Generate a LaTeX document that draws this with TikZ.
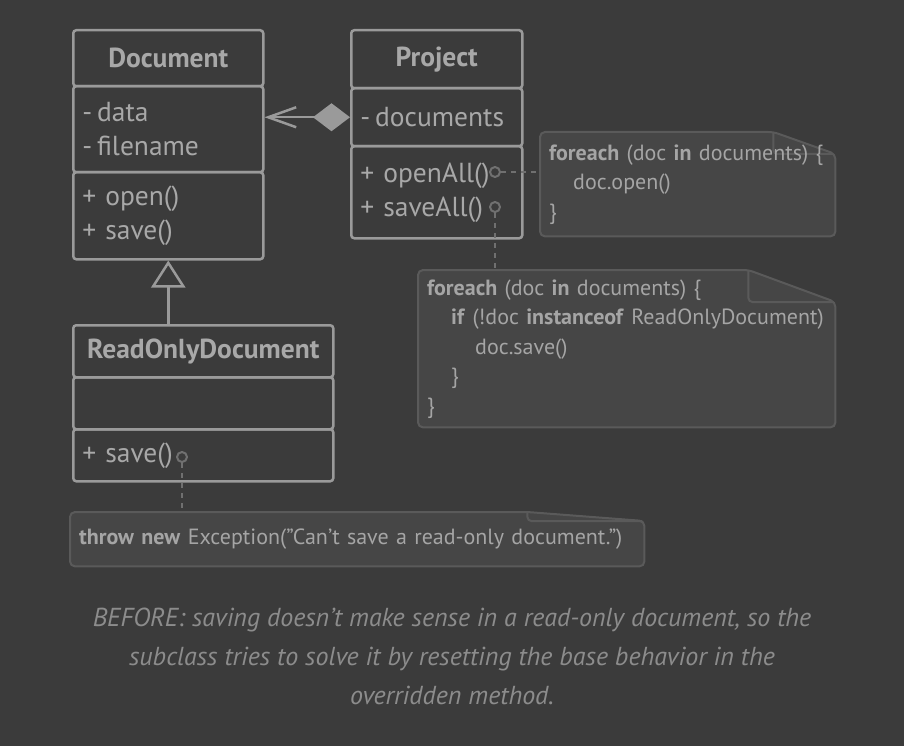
\documentclass[tikz,border=0pt]{standalone}
\usepackage{fontspec}
\setmainfont{PT Sans}
\usepackage{xcolor}
\usepackage{tikz}
\usetikzlibrary{arrows.meta, backgrounds}

\definecolor{pagebg}{HTML}{3B3B3B}
\definecolor{umlline}{HTML}{9A9A9A}
\definecolor{umltext}{HTML}{A8A8A8}
\definecolor{notefill}{HTML}{464646}
\definecolor{noteline}{HTML}{5A5A5A}
\definecolor{notetext}{HTML}{A5A5A5}
\definecolor{linkline}{HTML}{707070}
\definecolor{captext}{HTML}{8C8C8C}

\tikzset{
    umlbox/.style={draw=umlline, line width=2.5pt, rounded corners=3pt, anchor=north west,
        inner xsep=9pt, inner ysep=0pt, text=umltext, align=left, font=\fontsize{27.5}{34}\selectfont},
    umlhead/.style={umlbox, align=center, font=\fontsize{27.5}{34}\selectfont\bfseries},
    notebox/.style={anchor=north west, inner xsep=9pt, inner ysep=0pt, align=left,
        text=notetext, font=\fontsize{22}{29.5}\selectfont},
    linkdot/.style={circle, draw=linkline, line width=2pt, inner sep=0pt, minimum size=10pt},
    linkdash/.style={draw=linkline, line width=2.5pt, dash pattern=on 5pt off 5pt}
}

\begin{document}
\begin{tikzpicture}[x=1pt, y=-1pt]
    \useasboundingbox (0, 0) rectangle (904, 746);
    \begin{scope}[on background layer]
        \fill[pagebg] (0, 0) rectangle (904, 746);
    \end{scope}

    % classes
    \node[umlhead, minimum width=190pt, minimum height=56pt] (doc) at (72, 29) {Document};
    \node[umlbox, text width=172pt, minimum height=86pt] (docattr) at (72, 85) {-\hspace{5pt}data\\-\hspace{5pt}filename};
    \node[umlbox, text width=172pt, minimum height=87pt] (docops) at (72, 171) {+ open()\\+ save()};

    \node[umlhead, minimum width=171pt, minimum height=58pt] (proj) at (350, 29) {Project};
    \node[umlbox, text width=153pt, minimum height=58pt] (projattr) at (350, 87) {-\hspace{5pt}documents};
    \node[umlbox, text width=153pt, minimum height=92pt] (projops) at (350, 145) {+ openAll()\\+ saveAll()};

    \node[umlhead, minimum width=260pt, minimum height=52pt] (rodoc) at (72, 324) {ReadOnlyDocument};
    \node[umlbox, text width=242pt, minimum height=52pt] (rodocattr) at (72, 376) {};
    \node[umlbox, text width=242pt, minimum height=52pt] (rodocops) at (72, 428) {+ save()};

    % relations
    \draw[umlline, line width=2.5pt, {Straight Barb[length=28pt, width=20pt, line width=2.5pt]}-{Diamond[length=37pt, width=28pt]}]
        (docattr.east |- projattr.west) -- (projattr.west);
    \draw[umlline, line width=2.5pt, -{Triangle[open, length=27pt, width=34pt, line width=2.5pt, fill=pagebg]}]
        (rodoc.north -| docops.south) -- (docops.south);

    % notes
    \node[notebox, text width=277pt, minimum height=104pt] (noteopen) at (540, 132)
        {\mbox{\textbf{foreach} (doc \textbf{in} documents) \{}\\\hspace*{24pt}doc.open()\\\}};
    \node[notebox, text width=399pt, minimum height=157pt] (notesave) at (418, 270)
        {\mbox{\textbf{foreach} (doc \textbf{in} documents) \{}\\
         \mbox{\hspace*{24pt}\textbf{if} (!doc \textbf{instanceof} ReadOnlyDocument)}\\
         \hspace*{48pt}doc.save()\\
         \hspace*{24pt}\}\\\}};
    \node[notebox, text width=556pt, minimum height=54pt] (notethrow) at (70, 512)
        {\textbf{throw new} Exception("Can’t save a read-only document.")};

    \begin{scope}[on background layer]
        \foreach \n/\fx/\fy in {noteopen/62/22, notesave/87/32, notethrow/117/9} {
            \filldraw[fill=notefill, draw=noteline, line width=2pt, rounded corners=5pt]
                (\n.south west) -- (\n.north west) -- ([xshift=-\fx pt]\n.north east)
                -- ([yshift=-\fy pt]\n.north east) -- (\n.south east) -- cycle;
            \draw[noteline, line width=2pt, rounded corners=4pt]
                ([xshift=-\fx pt]\n.north east) -- ([xshift=-\fx pt, yshift=-\fy pt]\n.north east)
                -- ([xshift=-2pt, yshift=-\fy pt]\n.north east);
        }
    \end{scope}

    % links to notes
    \node[linkdot] (opendot) at (495, 172) {};
    \node[linkdot] (savedot) at (495, 207) {};
    \node[linkdot] (rosavedot) at (182, 457) {};
    \draw[linkdash] (opendot) -- (noteopen.west |- opendot);
    \draw[linkdash] (savedot) -- (notesave.north -| savedot);
    \draw[linkdash] (rosavedot) -- (notethrow.north -| rosavedot);

    % caption
    \node[text=captext, align=center, font=\fontsize{26}{39}\selectfont\itshape] (caption) at (452, 656)
        {BEFORE: saving doesn’t make sense in a read-only document, so the\\
         subclass tries to solve it by resetting the base behavior in the\\
         overridden method.};
\end{tikzpicture}
\end{document}
